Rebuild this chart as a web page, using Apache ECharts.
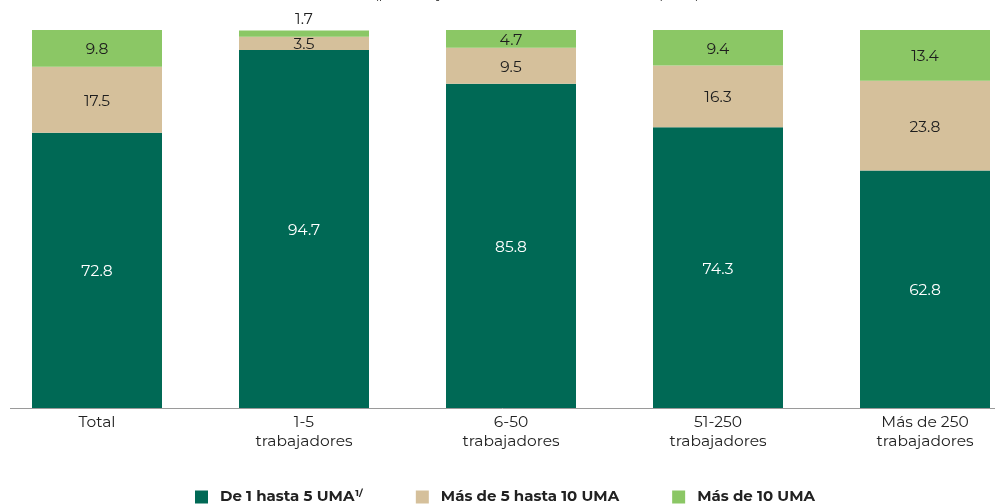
<!DOCTYPE html>
<html>
<head>
<meta charset="utf-8">
<script src="https://cdn.jsdelivr.net/npm/echarts@6/dist/echarts.min.js"></script>
<style>
  html, body { margin: 0; padding: 0; background: #ffffff; }
  #chart { width: 995px; height: 504px; }
</style>
</head>
<body>
<div id="chart"></div>
<script>
// Distribución de trabajadores por nivel salarial y tamaño de empresa (%)
const categories = ['Total', '1-5\ntrabajadores', '6-50\ntrabajadores', '51-250\ntrabajadores', 'Más de 250\ntrabajadores'];
const seriesNames = ['De 1 hasta 5 UMA', 'Más de 5 hasta 10 UMA', 'Más de 10 UMA'];
const hasta5 = [72.8, 94.7, 85.8, 74.3, 62.8];
const de5a10 = [17.5, 3.5, 9.5, 16.3, 23.8];
const mas10 = [9.8, 1.7, 4.7, 9.4, 13.4];

const FONT = 'Montserrat, "Open Sans", "Noto Sans", sans-serif';
const colors = ['#006955', '#D5C09B', '#8BC765'];

const chart = echarts.init(document.getElementById('chart'), null, { renderer: 'canvas' });

function labelFor(color) {
  return {
    show: true,
    position: 'inside',
    offset: [0, 1.5],
    color: color,
    fontFamily: FONT,
    fontSize: 15.5,
    formatter: (p) => p.value.toFixed(1)
  };
}

// Small values that do not fit inside the bar go above it
const mas10Data = mas10.map((v) => v < 3 ? {
  value: v,
  label: { position: 'top', distance: 3, offset: [0, 0] }
} : v);

chart.setOption({
  animation: false,
  title: {
    text: '(porcentaje del total de cada tamaño de empresa)',
    left: 532,
    textAlign: 'center',
    top: -17,
    textStyle: { fontFamily: FONT, fontSize: 13, fontWeight: 'normal', color: '#333' }
  },
  grid: { left: -6.5, width: 1035, top: 30, bottom: 96, containLabel: false, outerBoundsMode: 'none' },
  xAxis: {
    type: 'category',
    data: categories,
    axisLine: { show: false },
    axisTick: { show: false },
    axisLabel: {
      color: '#222',
      fontFamily: FONT,
      fontSize: 15.5,
      lineHeight: 19,
      margin: 5,
      interval: 0
    }
  },
  yAxis: {
    type: 'value',
    min: 0,
    max: 100,
    show: false,
    splitLine: { show: false }
  },
  legend: {
    top: 483,
    left: 190,
    itemWidth: 13,
    itemHeight: 13,
    itemGap: 53,
    icon: 'rect',
    textStyle: {
      fontFamily: FONT,
      fontSize: 15,
      fontWeight: 'bold',
      color: '#222',
      rich: {
        b: { fontFamily: FONT, fontSize: 15, fontWeight: 'bold', color: '#222', padding: [0, 0, 0, 7] },
        s: { fontFamily: FONT, fontSize: 9.5, fontWeight: 'bold', color: '#222', verticalAlign: 'top', padding: [0, 0, 8, 1] }
      }
    },
    formatter: (name) => name === seriesNames[0] ? '{b|' + name + '}{s|1/}' : '{b|' + name + '}'
  },
  graphic: [{
    type: 'line',
    shape: { x1: 10, y1: 408.5, x2: 995, y2: 408.5 },
    style: { stroke: '#9a9a9a', lineWidth: 1 },
    z: 10
  }],
  series: [
    {
      name: seriesNames[0], type: 'bar', stack: 'total', barWidth: 130,
      itemStyle: { color: colors[0] }, label: labelFor('#ffffff'), data: hasta5
    },
    {
      name: seriesNames[1], type: 'bar', stack: 'total', barWidth: 130,
      itemStyle: { color: colors[1] }, label: labelFor('#1e1e1e'), data: de5a10
    },
    {
      name: seriesNames[2], type: 'bar', stack: 'total', barWidth: 130,
      itemStyle: { color: colors[2] }, label: labelFor('#1e1e1e'), data: mas10Data
    }
  ]
});
</script>
</body>
</html>
